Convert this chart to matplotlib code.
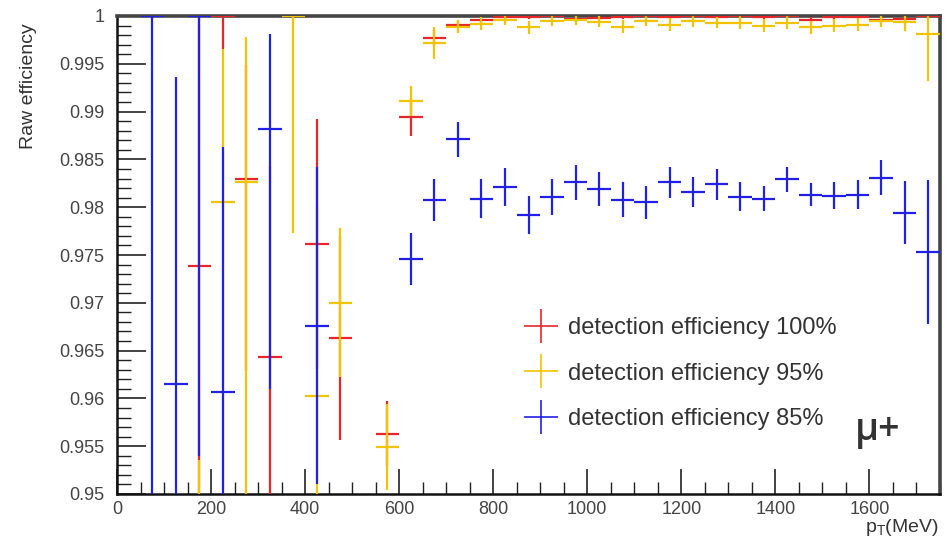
import numpy as np
import matplotlib
matplotlib.use("Agg")
import matplotlib.pyplot as plt
from matplotlib.lines import Line2D
from matplotlib.ticker import MultipleLocator

plt.rcParams['font.family'] = ['Liberation Sans', 'DejaVu Sans']

# bin centres (MeV), 50 MeV bins
pt = [25, 75, 125, 175, 225, 275, 325, 375, 425, 475, 525, 575, 625, 675,
      725, 775, 825, 875, 925, 975, 1025, 1075, 1125, 1175, 1225, 1275,
      1325, 1375, 1425, 1475, 1525, 1575, 1625, 1675, 1725]
nan = float('nan')

# detection efficiency 100%
eff100 = [nan, nan, nan, 0.9738, 1.0, 0.9829, 0.9643, nan, 0.9761, 0.9663, nan, 0.9563, 0.9894, 0.9977,
          0.9991, 0.9996, 0.9999, 0.9999, 1.0, 0.9997, 0.9998, 0.9999, 1.0, 0.9999, 1.0, 0.9999,
          1.0, 0.9999, 1.0, 0.9996, 0.9999, 0.9999, 0.9996, 0.9997, 1.0]
lo100 = [nan, nan, nan, 0.030, 0.0035, 0.020, 0.025, nan, 0.013, 0.0107, nan, 0.0034, 0.0019, 0.0008,
         0.0004, 0.0003, 0.0002, 0.0002, 0.0001, 0.0003, 0.0002, 0.0002, 0.0001, 0.0002, 0.0001, 0.0002,
         0.0001, 0.0002, 0.0001, 0.0003, 0.0002, 0.0002, 0.0003, 0.0003, 0.0002]
hi100 = [nan, nan, nan, 0.026, 0.0, 0.012, 0.020, nan, 0.0131, 0.0107, nan, 0.0034, 0.0019, 0.0008,
         0.0004, 0.0003, 0.0001, 0.0001, 0.0, 0.0003, 0.0002, 0.0001, 0.0, 0.0001, 0.0, 0.0001,
         0.0, 0.0001, 0.0, 0.0003, 0.0001, 0.0001, 0.0003, 0.0003, 0.0]

# detection efficiency 95%
eff95 = [nan, nan, nan, 0.940, 0.9805, 0.9826, nan, 1.0, 0.9602, 0.9700, nan, 0.9549, 0.9911, 0.9972,
         0.9989, 0.9992, 0.9996, 0.9988, 0.9995, 0.9996, 0.9994, 0.9989, 0.9995, 0.9991, 0.9995, 0.9993,
         0.9993, 0.9990, 0.9993, 0.9988, 0.9990, 0.9991, 0.9995, 0.9994, 0.9981]
lo95 = [nan, nan, nan, 0.020, 0.030, 0.040, nan, 0.0227, 0.020, 0.0078, nan, 0.0045, 0.0016, 0.0017,
        0.0007, 0.0007, 0.0005, 0.0007, 0.0005, 0.0005, 0.0006, 0.0007, 0.0005, 0.0007, 0.0006, 0.0006,
        0.0007, 0.0007, 0.0007, 0.0007, 0.0007, 0.0007, 0.0006, 0.0010, 0.0049]
hi95 = [nan, nan, nan, 0.0136, 0.016, 0.0152, nan, 0.0, 0.020, 0.0078, nan, 0.0045, 0.0016, 0.0017,
        0.0007, 0.0007, 0.0004, 0.0007, 0.0005, 0.0004, 0.0006, 0.0007, 0.0005, 0.0007, 0.0005, 0.0006,
        0.0007, 0.0007, 0.0007, 0.0007, 0.0007, 0.0007, 0.0005, 0.0006, 0.0019]

# detection efficiency 85%
eff85 = [nan, 1.0, 0.9615, 1.0, 0.9607, nan, 0.9882, nan, 0.9676, nan, nan, nan, 0.9746, 0.9808,
         0.9871, 0.9809, 0.9821, 0.9792, 0.9811, 0.9826, 0.9819, 0.9808, 0.9805, 0.9826, 0.9816, 0.9824,
         0.9811, 0.9809, 0.9829, 0.9813, 0.9812, 0.9813, 0.9831, 0.9794, 0.9753]
lo85 = [nan, 0.070, 0.0321, 0.046, 0.0256, nan, 0.0272, nan, 0.0166, nan, nan, nan, 0.0027, 0.0022,
        0.0018, 0.0020, 0.0020, 0.0020, 0.0019, 0.0018, 0.0018, 0.0018, 0.0017, 0.0016, 0.0016, 0.0016,
        0.0015, 0.0013, 0.0013, 0.0012, 0.0014, 0.0015, 0.0018, 0.0033, 0.0075]
hi85 = [nan, 0.0, 0.0321, 0.0, 0.0256, nan, 0.0099, nan, 0.0166, nan, nan, nan, 0.0027, 0.0022,
        0.0018, 0.0020, 0.0020, 0.0020, 0.0019, 0.0018, 0.0018, 0.0018, 0.0017, 0.0016, 0.0016, 0.0016,
        0.0015, 0.0013, 0.0013, 0.0012, 0.0014, 0.0015, 0.0018, 0.0033, 0.0075]

labels = ['detection efficiency 100%', 'detection efficiency 95%', 'detection efficiency 85%']
colors = ['#e8262a', '#f2c400', '#2020e8']
half_bin = 25

fig = plt.figure(figsize=(9.47, 5.41), dpi=100)
W, H = 947, 541
L, R, T, B = 117, 940, 16, 494
ax = fig.add_axes([L / W, (H - B) / H, (R - L) / W, (B - T) / H])

series = [(eff100, lo100, hi100), (eff95, lo95, hi95), (eff85, lo85, hi85)]
for (v, lo, hi), c in zip(series, colors):
    ax.errorbar(pt, v, xerr=half_bin, yerr=[lo, hi], fmt='none', ecolor=c,
                elinewidth=1.6, capsize=0, zorder=3)

ax.set_xlim(0, 1750)
ax.set_ylim(0.95, 1.0)

ax.xaxis.set_minor_locator(MultipleLocator(50))
ax.yaxis.set_minor_locator(MultipleLocator(0.001))
xt = list(range(0, 1601, 200))
ax.set_xticks(xt)
ax.set_xticklabels([str(v) for v in xt])
yt = np.round(np.arange(0.95, 1.0001, 0.005), 3)
ax.set_yticks(yt)
ax.set_yticklabels([f'{v:g}' for v in yt])

ax.tick_params(axis='both', which='both', direction='in', labelsize=13,
               colors='#222222', labelcolor='#444444')
ax.tick_params(axis='y', which='major', length=21, width=1.2, pad=9)
ax.tick_params(axis='y', which='minor', length=10, width=1.0)
ax.tick_params(axis='x', which='major', length=18, width=1.2, pad=5)
ax.tick_params(axis='x', which='minor', length=9, width=1.0)

for s in ['left', 'bottom']:
    ax.spines[s].set_linewidth(1.8)
    ax.spines[s].set_color('#111111')
for s in ['top', 'right']:
    ax.spines[s].set_linewidth(2.6)
    ax.spines[s].set_color('#444444')

ax.set_ylabel('Raw efficiency', fontsize=14, color='#333333', loc='top')
ax.yaxis.set_label_coords(-0.097, 0.985)
ax.set_xlabel(r'$\mathregular{p_{T}}$(MeV)', fontsize=14, color='#333333', loc='right')
ax.xaxis.set_label_coords(0.998, -0.048)

handles = [Line2D([], [], color=c, marker='+', markersize=24, markeredgewidth=1.2,
                  linestyle='none') for c in colors]
ax.legend(handles, labels, loc='center left', bbox_to_anchor=(0.468, 0.252),
          frameon=False, fontsize=17, labelspacing=1.0, handlelength=1.5,
          handletextpad=0.4, labelcolor='#333333')

ax.text(0.8965, 0.113, 'μ+', transform=ax.transAxes, fontsize=27, color='#333333',
        ha='left', va='baseline', weight='semibold', family=['Open Sans', 'DejaVu Sans'])

fig.savefig('out.png', dpi=100)
